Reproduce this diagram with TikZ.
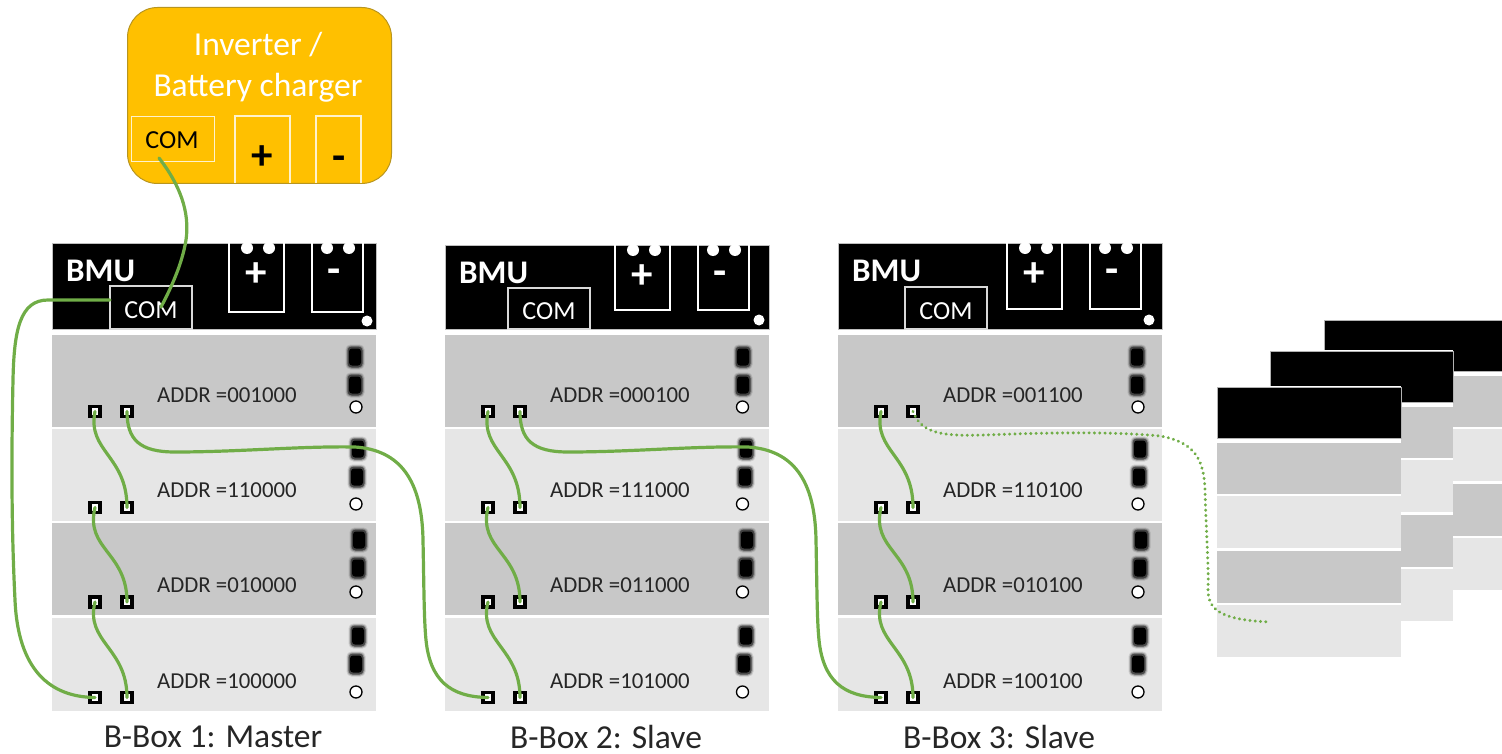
\documentclass[tikz,border=0pt]{standalone}
\usepackage{fontspec}
\setmainfont{Carlito}
\definecolor{wire}{HTML}{70AD47}
\definecolor{rowd}{HTML}{C8C8C8}
\definecolor{rowl}{HTML}{E6E6E6}
\definecolor{inv}{HTML}{FFC000}
\definecolor{invb}{HTML}{B8951F}
\tikzset{
  x=1pt,y=-1pt,
  wireline/.style={draw=wire,line width=3.2pt,line cap=round},
  dotline/.style={draw=wire,line width=3.2pt,line cap=round,dash pattern=on 0.1pt off 5.2pt},
  port/.style={draw=black,fill=white,line width=3.2pt,minimum size=10pt,inner sep=0pt,outer sep=0pt},
  outl/.style={draw=white,line width=1.1pt},
  addr/.style={anchor=west,inner sep=0pt,font=\fontsize{22.8}{25}\selectfont,text=black!85},
  boxtitle/.style={inner sep=0pt,font=\fontsize{33.5}{36}\selectfont,text=black!85},
  comtext/.style={inner sep=0pt,font=\fontsize{26}{29}\selectfont},
  bmutext/.style={inner sep=0pt,font=\fontsize{33}{35}\selectfont\bfseries,text=white},
  signw/.style={inner sep=0pt,font=\fontsize{43}{45}\selectfont\bfseries,text=white},
  signk/.style={inner sep=0pt,font=\fontsize{43}{45}\selectfont\bfseries,text=black},
  invtext/.style={inner sep=0pt,font=\fontsize{33.5}{36}\selectfont,text=white},
}
% #1 name, #2 left x, #3 top y, #4 terminal dx, #5 terminal bottom, #6 COM top, #7 COM dx
\newcommand\bmupanel[7]{
  \path[fill=black,draw=white!75!black,line width=.8pt] (#2,#3) rectangle ({#2+324},329);
  \node[bmutext,anchor=west] (#1bmu) at ({#2+14},{#3+28}) {BMU};
  \node[draw=white!85!black,line width=1.1pt,inner sep=0pt,outer sep=0pt,minimum width=82pt,minimum height={329-#6},anchor=north west] (#1com) at ({#2+#7},#6) {};
  \node[comtext,text=white] (#1comt) at ({#2+#7+41},{(#6+329)/2+3}) {COM};
  \path[outl] ({#4+#2},#3) -- ({#4+#2},#5) -- ({#4+#2+55},#5) -- ({#4+#2+55},#3);
  \path[outl] ({#4+#2+83},#3) -- ({#4+#2+83},#5) -- ({#4+#2+134},#5) -- ({#4+#2+134},#3);
  \fill[white] ({#4+#2+18},{#3+5}) circle (6) ({#4+#2+40},{#3+5}) circle (6)
               ({#4+#2+98},{#3+5}) circle (6) ({#4+#2+120},{#3+5}) circle (6);
  \node[signw] (#1plus) at ({#4+#2+27},{#3+32}) {+};
  \node[signw] (#1minus) at ({#4+#2+105},{#3+33}) {-};
}
% #1 left x
\newcommand\rows[1]{
  \fill[rowd] (#1,335) rectangle ({#1+324},427);
  \fill[rowl] (#1,429) rectangle ({#1+324},521);
  \fill[rowd] (#1,523) rectangle ({#1+324},615);
  \fill[rowl] (#1,618) rectangle ({#1+324},711);
}
\newcommand\led[2]{
  \fill[black,opacity=.12,rounded corners=5pt] ({#1-9.5},{#2-12.5}) rectangle ({#1+9.5},{#2+12.5});
  \fill[black,opacity=.25,rounded corners=4.5pt] ({#1-8.5},{#2-11.5}) rectangle ({#1+8.5},{#2+11.5});
  \fill[black,opacity=.5,rounded corners=4pt] ({#1-7.5},{#2-10.5}) rectangle ({#1+7.5},{#2+10.5});
  \fill[black,rounded corners=3pt] ({#1-6},{#2-8.5}) rectangle ({#1+6},{#2+8.5});
}
% #1 led base x, circle x
\newcommand\leds[2]{
  \led{#1}{357}\led{#1}{385}
  \led{#1+3}{449}\led{#1+2}{477}
  \led{#1+4}{540}\led{#1+3}{568}
  \led{#1+3}{636}\led{#1+1}{664}
  \foreach \yy in {407,504,592,692}{\path[draw=black,fill=white,line width=1.3pt] (#2,\yy) circle (6);}
}
% #1 name, #2 left x, #3..#6 addresses
\newcommand\addrs[6]{
  \node[addr] (#1aa) at ({#2+105},395.5) {ADDR =#3};
  \node[addr] (#1ab) at ({#2+105},490.5) {ADDR =#4};
  \node[addr] (#1ac) at ({#2+105},585.5) {ADDR =#5};
  \node[addr] (#1ad) at ({#2+105},681.5) {ADDR =#6};
}
% #1 name, #2 left x
\newcommand\ports[2]{
  \node[port] (#1p1l) at ({#2+43},411.5) {};
  \node[port] (#1p1r) at ({#2+75},411.5) {};
  \node[port] (#1p2l) at ({#2+43},507.5) {};
  \node[port] (#1p2r) at ({#2+75},507.5) {};
  \node[port] (#1p3l) at ({#2+43},602) {};
  \node[port] (#1p3r) at ({#2+75},602) {};
  \node[port] (#1p4l) at ({#2+43},697.5) {};
  \node[port] (#1p4r) at ({#2+75},697.5) {};
}
\newcommand\daisy[1]{
  \path[wireline] (#1p1l.center) .. controls +(-8,40) and +(0,-52) .. (#1p2r.center);
  \path[wireline] (#1p2l.center) .. controls +(-10,42) and +(0,-50) .. (#1p3r.center);
  \path[wireline] (#1p3l.center) .. controls +(-10,40) and +(0,-50) .. (#1p4r.center);
}
% #1 left x, #2 top, #3 right
\newcommand\stack[3]{
  \fill[white] ({#1-1},{#2-1}) rectangle (#3,{#2+271});
  \fill[rowd] (#1,{#2+56}) rectangle (#3,{#2+106.5});
  \fill[rowl] (#1,{#2+109}) rectangle (#3,{#2+161});
  \fill[rowd] (#1,{#2+164}) rectangle (#3,{#2+215.5});
  \fill[rowl] (#1,{#2+218}) rectangle (#3,{#2+270});
  \path[fill=black,draw=white!70!black,line width=1pt] (#1,#2) rectangle (#3,{#2+51});
}
\begin{document}
\begin{tikzpicture}
\useasboundingbox (0,0) rectangle (1502,754);
% Inverter
\node[draw=invb,fill=inv,line width=1pt,rounded corners=30pt,minimum width=264pt,minimum height=176pt,inner sep=0pt,anchor=north west] (inverter) at (127,7) {};
\node[invtext] (invline1) at (258,45) {Inverter /};
\node[invtext] (invline2) at (258,88) {Battery charger};
\node[draw=white!80!inv,line width=1.1pt,minimum width=83pt,minimum height=45pt,inner sep=0pt,anchor=north west] (invcom) at (131,116) {};
\node[comtext,text=black] (invcomt) at (172,140) {COM};
\path[draw=white!80!inv,line width=1.1pt] (235,183) -- (235,116) -- (290,116) -- (290,183);
\path[draw=white!80!inv,line width=1.1pt] (316,183) -- (316,116) -- (361,116) -- (361,183);
\node[signk] (invplus) at (262,158) {+};
\node[signk] (invminus) at (339,163) {-};
% Boxes
\rows{52}\rows{445}\rows{838}
\bmupanel{a}{52}{243}{177}{312}{286}{58}
\bmupanel{b}{445}{245}{170}{310}{288}{63}
\bmupanel{c}{838}{243}{169}{309}{287}{67}
\fill[white] (367,321) circle (5.5) (759,320) circle (5.5) (1149,320) circle (5.5);
\leds{355}{356}\leds{743}{742.5}\leds{1137}{1138}
\addrs{a}{52}{001000}{110000}{010000}{100000}
\addrs{b}{445}{000100}{111000}{011000}{101000}
\addrs{c}{838}{001100}{110100}{010100}{100100}
\ports{a}{52}\ports{b}{445}\ports{c}{838}
\node[boxtitle] (atitle) at (213,737) {B-Box 1: Master};
\node[boxtitle] (btitle) at (606,737) {B-Box 2: Slave};
\node[boxtitle] (ctitle) at (999,737) {B-Box 3: Slave};
% Background stacks
\stack{1324}{320}{1510}
\stack{1270}{351}{1453}
\stack{1217}{387}{1401}
% Wires
\coordinate (invwire) at (159,158);
\coordinate (comwire) at (161,307);
\coordinate (comleft) at (110,300);
\coordinate (dotend) at (1270,622);
\path[wireline] (invwire) .. controls (180,185) and (190,212) .. (186,240) .. controls (182,265) and (170,290) .. (comwire);
\path[wireline] (comleft) -- (48,300) .. controls (20,300) and (14,330) .. (13,380) .. controls (11,470) and (12,540) .. (15,600) .. controls (18,670) and (50,697) .. (ap4l.center);
\daisy{a}\daisy{b}\daisy{c}
\path[wireline] (ap1r.center) .. controls (127,440) and (140,452) .. (175,452) .. controls (240,452) and (300,446) .. (355,447) .. controls (400,450) and (422,480) .. (423,540) .. controls (424,590) and (424,620) .. (426,640) .. controls (430,680) and (450,697) .. (bp4l.center);
\path[wireline] (bp1r.center) .. controls (520,440) and (533,452) .. (568,452) .. controls (633,452) and (693,446) .. (748,447) .. controls (793,450) and (815,480) .. (816,540) .. controls (817,590) and (817,620) .. (819,640) .. controls (823,680) and (843,697) .. (cp4l.center);
\path[dotline] (cp1r.center) .. controls (922,435) and (945,436) .. (985,435) .. controls (1060,432) and (1120,432) .. (1160,436) .. controls (1195,442) and (1204,460) .. (1205,490) .. controls (1206,530) and (1209,570) .. (1208,590) .. controls (1208,612) and (1225,620) .. (dotend);
\end{tikzpicture}
\end{document}
